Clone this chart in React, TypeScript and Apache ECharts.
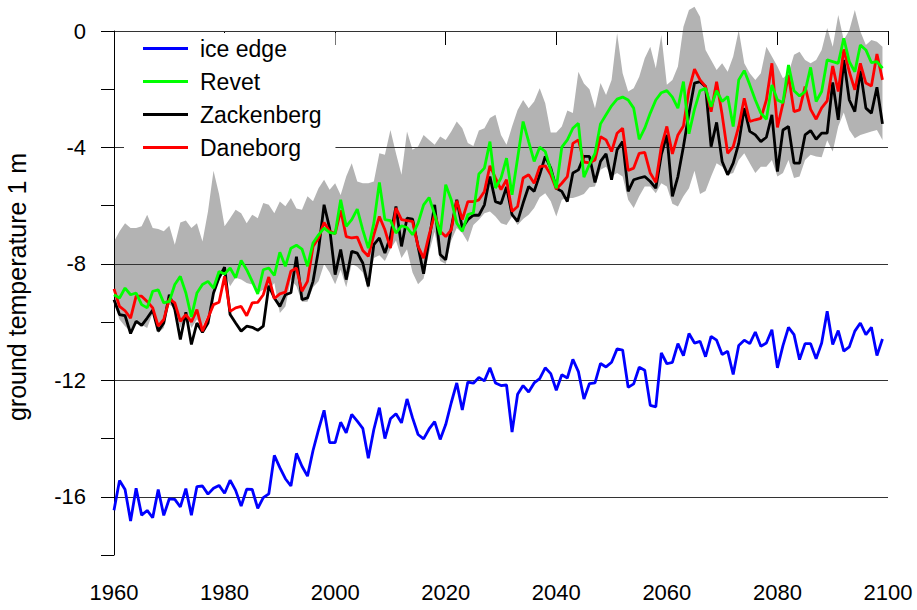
import React, { useEffect, useRef } from "react";
import * as echarts from "echarts";

const START_YEAR = 1960;

const iceEdge = [
  -16.46, -15.44, -15.75, -16.83, -15.71, -16.63, -16.47, -16.72, -15.75, -16.64,
  -16.07, -16.09, -16.35, -15.72, -16.63, -15.65, -15.63, -15.91, -15.71, -15.61,
  -15.88, -15.43, -15.78, -16.32, -15.74, -15.75, -16.40, -16.03, -15.90, -14.58,
  -15.00, -15.38, -15.63, -14.51, -14.95, -15.29, -14.41, -13.69, -13.03, -14.14,
  -14.14, -13.44, -13.80, -13.17, -13.40, -13.65, -14.68, -13.69, -12.94, -14.00,
  -13.32, -13.15, -13.46, -12.64, -13.29, -13.86, -14.01, -13.67, -13.42, -14.03,
  -13.52, -12.77, -12.09, -13.02, -12.06, -12.10, -11.90, -12.02, -11.57, -12.09,
  -12.18, -12.16, -13.78, -12.48, -12.18, -12.40, -12.09, -11.94, -11.57, -11.77,
  -12.34, -11.81, -11.92, -11.28, -11.70, -12.64, -12.11, -12.09, -11.42, -11.54,
  -11.38, -10.92, -10.96, -12.24, -12.12, -11.55, -11.65, -12.86, -12.91, -11.06,
  -11.43, -11.38, -10.74, -11.15, -10.39, -10.72, -10.66, -11.19, -10.49, -10.62,
  -11.11, -11.00, -11.80, -10.80, -10.62, -10.74, -10.34, -10.83, -10.72, -10.26,
  -11.57, -10.81, -10.18, -10.43, -11.29, -10.74, -10.74, -11.26, -10.72, -9.63,
  -10.77, -10.29, -11.00, -10.85, -10.31, -10.03, -10.43, -10.18, -11.15, -10.58,
];

const revet = [
  -9.06, -9.17, -8.83, -9.06, -9.00, -9.40, -9.51, -8.94, -8.89, -9.34,
  -9.29, -8.71, -8.43, -9.00, -9.82, -9.00, -8.71, -8.60, -8.83, -8.26,
  -8.35, -8.14, -8.48, -7.88, -8.20, -8.60, -9.03, -8.20, -8.14, -8.40,
  -7.60, -8.08, -7.46, -7.36, -7.49, -8.08, -7.28, -7.00, -6.77, -6.92,
  -6.96, -5.80, -6.71, -6.48, -6.12, -6.83, -7.46, -6.60, -5.20, -6.48,
  -6.51, -6.94, -6.69, -6.75, -7.00, -6.60, -5.97, -5.72, -6.31, -7.00,
  -5.28, -5.80, -6.60, -6.88, -6.31, -6.25, -4.91, -4.71, -3.80, -5.40,
  -5.05, -4.37, -5.63, -4.37, -3.11, -3.80, -4.48, -3.99, -4.14, -4.77,
  -5.40, -3.99, -3.74, -3.34, -3.17, -5.02, -4.58, -4.20, -3.19, -2.88,
  -2.57, -2.34, -2.27, -2.37, -2.65, -3.72, -3.34, -2.82, -2.37, -2.12,
  -2.05, -2.27, -2.65, -1.74, -3.53, -2.69, -2.05, -1.97, -2.60, -2.05,
  -2.42, -2.25, -3.28, -1.68, -1.36, -1.85, -2.37, -2.82, -3.03, -1.85,
  -2.37, -2.46, -1.17, -2.05, -2.23, -2.08, -1.25, -2.42, -2.08, -0.99,
  -1.05, -1.11, -0.25, -1.05, -1.40, -0.48, -0.65, -1.09, -1.05, -1.28,
];

const zackenberg = [
  -9.23, -9.74, -9.78, -10.39, -9.97, -10.11, -9.86, -9.59, -10.31, -10.03,
  -9.06, -9.57, -10.60, -9.66, -10.77, -10.03, -10.35, -10.03, -9.00, -8.48,
  -8.11, -9.74, -10.03, -10.31, -10.14, -10.18, -10.28, -10.14, -8.75, -9.17,
  -9.46, -9.06, -8.99, -7.75, -9.23, -9.17, -8.60, -7.51, -5.97, -6.77,
  -8.37, -7.51, -8.54, -7.57, -7.63, -7.97, -8.77, -7.34, -7.11, -7.63,
  -7.06, -6.03, -7.40, -6.43, -6.46, -7.40, -8.34, -7.17, -5.97, -7.68,
  -7.86, -6.77, -5.80, -6.77, -6.48, -6.33, -6.33, -5.97, -5.00, -5.86,
  -5.93, -5.36, -6.31, -6.54, -5.91, -5.34, -5.51, -4.94, -4.31, -4.71,
  -5.40, -5.51, -5.86, -4.88, -4.77, -4.31, -4.31, -5.20, -4.48, -4.22,
  -5.11, -4.08, -3.80, -5.51, -5.11, -5.05, -5.00, -5.17, -5.40, -4.25,
  -3.57, -5.68, -5.00, -3.97, -2.82, -1.79, -1.74, -1.91, -3.97, -3.14,
  -4.48, -4.94, -4.54, -3.86, -2.65, -3.45, -3.57, -3.80, -3.65, -2.88,
  -4.83, -3.40, -3.28, -4.54, -4.54, -3.57, -3.42, -3.72, -3.51, -3.51,
  -1.77, -3.05, -0.99, -2.37, -2.77, -1.36, -2.65, -2.82, -1.93, -3.19,
];

const daneborg = [
  -8.86, -9.46, -9.61, -9.86, -9.11, -9.11, -9.29, -9.51, -10.14, -9.91,
  -9.20, -9.34, -9.97, -9.74, -9.99, -9.57, -10.31, -9.86, -9.40, -9.32,
  -8.43, -9.63, -9.51, -9.46, -9.78, -9.34, -9.32, -9.06, -8.45, -9.19,
  -9.03, -8.97, -8.25, -8.14, -8.94, -8.60, -7.40, -7.11, -6.58, -6.88,
  -6.96, -6.16, -7.06, -7.11, -7.08, -7.54, -7.74, -7.00, -6.37, -6.83,
  -7.46, -6.08, -6.48, -6.51, -6.54, -7.40, -7.80, -7.00, -6.31, -6.88,
  -7.06, -6.83, -5.83, -6.48, -5.86, -5.86, -5.80, -5.51, -4.63, -5.05,
  -5.45, -5.11, -6.20, -6.03, -5.05, -4.94, -5.23, -4.66, -4.63, -4.94,
  -5.43, -5.23, -5.00, -3.86, -3.74, -4.50, -4.53, -4.43, -3.63, -3.74,
  -4.14, -3.51, -3.34, -4.79, -4.71, -4.20, -4.17, -4.88, -5.20, -3.97,
  -3.28, -4.22, -3.57, -3.26, -2.02, -1.31, -1.68, -1.91, -2.77, -1.74,
  -2.88, -4.20, -3.97, -3.28, -2.31, -3.11, -3.05, -3.00, -2.37, -1.11,
  -3.31, -2.49, -1.51, -2.77, -2.71, -1.91, -2.69, -3.03, -2.64, -2.40,
  -1.20, -2.08, -0.63, -1.40, -2.02, -1.11, -1.79, -1.89, -0.79, -1.68,
];

const bandUpper = [
  -7.23, -6.88, -6.60, -6.77, -6.77, -6.71, -6.31, -6.77, -6.80, -6.88,
  -6.69, -7.34, -6.58, -6.51, -6.77, -6.60, -7.23, -6.20, -4.80, -5.60,
  -6.71, -6.43, -6.14, -6.26, -6.60, -6.31, -6.43, -5.91, -5.97, -6.26,
  -5.86, -6.02, -5.74, -6.10, -6.14, -5.68, -5.85, -5.40, -5.11, -5.45,
  -5.23, -5.63, -5.00, -4.54, -5.17, -5.23, -5.23, -5.17, -4.20, -4.25,
  -3.40, -4.20, -4.94, -3.45, -4.08, -3.97, -3.57, -3.74, -3.91, -3.62,
  -3.74, -3.45, -3.11, -3.34, -3.85, -3.95, -3.42, -3.34, -2.99, -2.88,
  -3.57, -3.91, -3.28, -2.71, -2.37, -2.65, -2.42, -1.97, -2.48, -3.49,
  -3.49, -3.28, -2.73, -2.82, -1.40, -1.80, -2.00, -2.65, -1.79, -2.20,
  -1.68, -0.08, -1.45, -2.08, -1.97, -1.57, -0.94, -0.54, -1.28, -0.14,
  -1.85, -1.68, -1.22, 0.15, 0.72, 0.83, 0.49, -0.65, -1.00, -1.34,
  -1.11, -1.40, -0.88, 0.03, -1.11, -1.45, -1.68, -1.45, -0.54, -0.88,
  -1.22, -1.62, -1.45, -0.82, -0.71, -1.00, -1.11, -1.00, -0.65, 0.10,
  -0.54, 0.55, -0.31, 0.03, 0.72, -0.02, -0.48, -0.31, -0.37, -0.54,
];

const bandLower = [
  -9.34, -9.91, -10.14, -10.31, -9.91, -10.09, -10.20, -9.69, -10.37, -10.20,
  -9.40, -9.51, -10.20, -9.69, -10.20, -9.91, -10.14, -9.74, -9.11, -8.54,
  -8.26, -8.77, -8.48, -8.54, -8.66, -8.71, -9.00, -8.89, -8.89, -8.66,
  -9.69, -9.46, -8.54, -8.77, -9.30, -9.30, -8.80, -8.60, -8.00, -8.30,
  -8.70, -8.20, -8.80, -8.00, -8.10, -8.30, -8.90, -7.80, -7.70, -7.90,
  -7.50, -7.20, -7.80, -7.50, -8.30, -8.70, -8.50, -7.60, -6.90, -7.90,
  -8.00, -7.20, -6.77, -6.94, -7.26, -6.66, -6.48, -6.26, -6.20, -6.37,
  -6.60, -6.66, -6.37, -6.66, -6.46, -6.31, -6.08, -5.71, -5.57, -5.85,
  -6.37, -5.80, -5.74, -5.74, -5.68, -5.60, -5.37, -5.34, -4.77, -4.66,
  -5.00, -4.88, -5.00, -5.80, -6.08, -5.68, -5.34, -5.34, -5.57, -5.23,
  -5.34, -5.93, -6.03, -5.68, -5.40, -4.80, -5.60, -5.50, -5.00, -4.54,
  -4.66, -4.94, -4.88, -4.43, -4.20, -4.54, -4.88, -4.66, -4.66, -4.43,
  -5.00, -4.88, -4.43, -5.05, -5.00, -4.43, -4.25, -4.31, -4.34, -3.75,
  -4.14, -3.28, -2.80, -3.40, -3.68, -3.57, -3.51, -3.45, -3.40, -3.74,
];

const legendOrder = ["ice edge", "Revet", "Zackenberg", "Daneborg"];

const pairs = (vals: number[]) => vals.map((v, i) => [START_YEAR + i, v]);

export default function App() {
  const ref = useRef<HTMLDivElement>(null);

  useEffect(() => {
    if (!ref.current) return;
    const chart = echarts.init(ref.current, undefined, { renderer: "svg" });
    const font = "'Liberation Sans', Arial, sans-serif";

    const lineSeries = (name: string, data: number[], color: string, z: number) => ({
      name,
      type: "line",
      data: pairs(data),
      symbol: "none",
      showSymbol: false,
      z,
      lineStyle: { color, width: 2.8 },
      itemStyle: { color },
      emphasis: { disabled: true },
    });

    chart.setOption({
      animation: false,
      grid: {
        left: 114,
        right: 29,
        top: 31,
        bottom: 55,
        containLabel: false,
        outerBoundsMode: "none",
      },
      xAxis: {
        type: "value",
        min: 1960,
        max: 2100,
        interval: 20,
        axisLine: { show: true, lineStyle: { color: "#444", width: 1 } },
        axisTick: { show: true, length: 14, lineStyle: { color: "#000" } },
        axisLabel: {
          fontSize: 22,
          color: "#000",
          margin: 26,
          fontFamily: font,
          formatter: (v: number) => String(v),
        },
        splitLine: { show: false },
      },
      yAxis: {
        type: "value",
        min: -18,
        max: 0,
        interval: 2,
        z: 2,
        name: "ground temperature 1 m",
        nameLocation: "middle",
        nameGap: 85,
        nameTextStyle: { fontSize: 25, color: "#000", fontFamily: font, padding: [0, 0, 0, 12] },
        axisLine: { show: true, lineStyle: { color: "#000", width: 1 } },
        axisTick: { show: true, length: 13, lineStyle: { color: "#000" } },
        axisLabel: {
          fontSize: 22,
          color: "#000",
          margin: 28,
          fontFamily: font,
          formatter: (v: number) => (v % 4 === 0 ? String(v) : ""),
        },
        splitLine: {
          show: true,
          lineStyle: { color: ["rgba(0,0,0,0)", "#333"], width: 1 },
        },
      },
      legend: {
        data: legendOrder,
        orient: "vertical",
        left: 124,
        top: 33,
        z: 10,
        itemWidth: 45,
        itemHeight: 20,
        itemGap: 10,
        icon: "path://M0,0 L45,0 L45,2.8 L0,2.8 Z",
        backgroundColor: "#fff",
        padding: [4, 14, 6, 19],
        textStyle: { fontSize: 23, color: "#000", fontFamily: font, padding: [0, 0, 0, 7] },
        selectedMode: false,
      },
      series: [
        {
          name: "band",
          type: "custom",
          data: bandUpper.map((u, i) => [START_YEAR + i, bandLower[i], u]),
          encode: { x: 0, y: [1, 2] },
          clip: false,
          silent: true,
          z: 1,
          renderItem: (params: any, api: any) => {
            if (params.dataIndex !== 0) return null;
            const pts: number[][] = [];
            for (let i = 0; i < bandUpper.length; i++) {
              pts.push(api.coord([START_YEAR + i, bandUpper[i]]));
            }
            for (let i = bandLower.length - 1; i >= 0; i--) {
              pts.push(api.coord([START_YEAR + i, bandLower[i]]));
            }
            return {
              type: "polygon",
              shape: { points: pts },
              style: { fill: "#b3b3b3", stroke: null },
              silent: true,
            };
          },
        },
        lineSeries("Zackenberg", zackenberg, "#000000", 3),
        lineSeries("Daneborg", daneborg, "#ff0000", 4),
        lineSeries("Revet", revet, "#00ff00", 5),
        lineSeries("ice edge", iceEdge, "#0000ff", 6),
      ],
    });

    return () => chart.dispose();
  }, []);

  return (
    <div
      ref={ref}
      style={{ position: "fixed", left: 0, top: 0, width: 917, height: 610, background: "#fff" }}
    />
  );
}
